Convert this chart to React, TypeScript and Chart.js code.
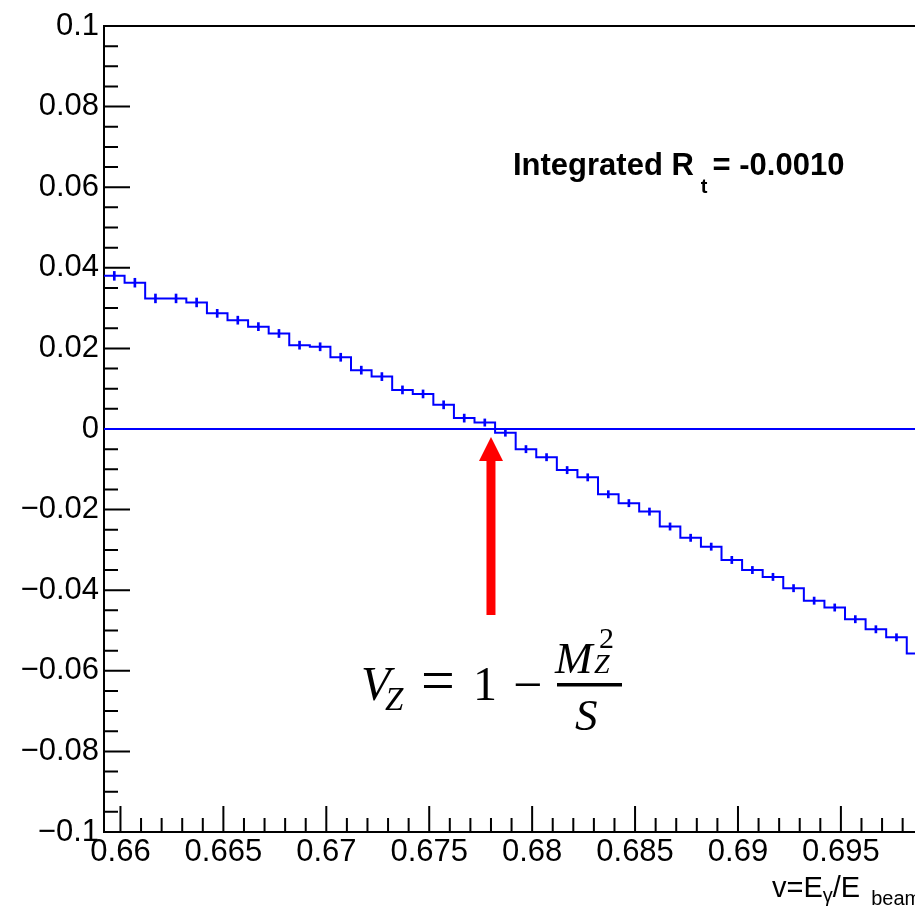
import React, { useEffect, useRef } from "react";
import { Chart, registerables } from "chart.js";

Chart.register(...registerables);

// ---- histogram definition (bins in nu = E_gamma / E_beam) ----
const binStart = 0.6592;
const binWidth = 0.001;

// R_t per bin
const rtValues = [
  0.0380, 0.0363, 0.0324, 0.0324, 0.0314, 0.0287, 0.0270, 0.0254, 0.0237, 0.0208,
  0.0204, 0.0178, 0.0146, 0.0130, 0.0097, 0.0087, 0.0060, 0.0027, 0.0016, -0.0009,
  -0.0050, -0.0070, -0.0102, -0.0120, -0.0162, -0.0184, -0.0205, -0.0242, -0.0270, -0.0292,
  -0.0325, -0.0350, -0.0367, -0.0395, -0.0426, -0.0443, -0.0472, -0.0497, -0.0517, -0.0557,
];

// statistical errors per bin
const rtErrors = [
  0.0011, 0.0011, 0.0011, 0.0011, 0.0011, 0.0010, 0.0010, 0.0010, 0.0010, 0.0010,
  0.0010, 0.0010, 0.0010, 0.0010, 0.0010, 0.0010, 0.0010, 0.0010, 0.0009, 0.0009,
  0.0009, 0.0009, 0.0009, 0.0009, 0.0009, 0.0009, 0.0009, 0.0009, 0.0009, 0.0009,
  0.0009, 0.0009, 0.0009, 0.0009, 0.0009, 0.0009, 0.0009, 0.0009, 0.0009, 0.0009,
];

// axis ranges and tick steps
const xRange = [0.6592, 0.6986];
const yRange = [-0.1, 0.1];
const xTickSteps = [0.005, 0.001];
const yTickSteps = [0.02, 0.005];

// annotation
const nuZ = 0.678;
const integratedText = ["Integrated R", "t", "= -0.0010"];
const xTitleParts = ["v=E", "γ", "/E", "beam"];

const FONT = "'Liberation Sans', Arial, sans-serif";
const SERIF = "'Liberation Serif', 'Times New Roman', serif";
const BLUE = "#0000ff";

function fmtY(v: number) {
  const r = Math.round(v * 1000) / 1000;
  const s = String(r === 0 ? 0 : r);
  return s.replace("-", "\u2212");
}
function fmtX(v: number) {
  return String(Math.round(v * 10000) / 10000);
}

const framePlugin = {
  id: "rootFrame",
  beforeDatasetsDraw(chart: any) {
    const { ctx, chartArea, scales } = chart;
    const { left, right, top, bottom } = chartArea;
    ctx.save();
    ctx.strokeStyle = "#000";
    ctx.lineWidth = 2;
    // frame (right side is outside the picture)
    ctx.beginPath();
    ctx.moveTo(right + 5, top);
    ctx.lineTo(left, top);
    ctx.lineTo(left, bottom);
    ctx.lineTo(right + 5, bottom);
    ctx.stroke();
    // y ticks (inside)
    const ys = scales.y;
    const nY = Math.round((yRange[1] - yRange[0]) / yTickSteps[1]);
    const perMajY = Math.round(yTickSteps[0] / yTickSteps[1]);
    ctx.beginPath();
    for (let k = 0; k <= nY; k++) {
      const v = yRange[0] + k * yTickSteps[1];
      const py = ys.getPixelForValue(v);
      const len = k % perMajY === 0 ? 26 : 14;
      ctx.moveTo(left, py);
      ctx.lineTo(left + len, py);
    }
    ctx.stroke();
    // x ticks (inside)
    const xs = scales.x;
    const kStart = Math.ceil(xRange[0] / xTickSteps[1] - 1e-6);
    const kEnd = Math.floor(xRange[1] / xTickSteps[1] + 1e-6);
    const perMajX = Math.round(xTickSteps[0] / xTickSteps[1]);
    ctx.beginPath();
    for (let k = kStart; k <= kEnd; k++) {
      const px = xs.getPixelForValue(k * xTickSteps[1]);
      const len = k % perMajX === 0 ? 26 : 14;
      ctx.moveTo(px, bottom);
      ctx.lineTo(px, bottom - len);
    }
    ctx.stroke();
    ctx.restore();
  },
  afterDraw(chart: any) {
    const { ctx, scales } = chart;
    ctx.save();
    ctx.fillStyle = "#000";
    ctx.textBaseline = "alphabetic";
    ctx.textAlign = "left";

    // Integrated R_t label
    let x = 513;
    ctx.font = `bold 31px ${FONT}`;
    ctx.fillText(integratedText[0], x, 175);
    x += ctx.measureText(integratedText[0]).width + 7;
    ctx.font = `bold 20px ${FONT}`;
    ctx.fillText(integratedText[1], x, 193);
    x += ctx.measureText(integratedText[1]).width + 5;
    ctx.font = `bold 31px ${FONT}`;
    ctx.fillText(integratedText[2], x, 175);

    // x axis title
    x = 772;
    ctx.font = `29px ${FONT}`;
    ctx.fillText(xTitleParts[0], x, 897);
    x += ctx.measureText(xTitleParts[0]).width;
    ctx.font = `20px ${FONT}`;
    ctx.fillText(xTitleParts[1], x, 902);
    x += ctx.measureText(xTitleParts[1]).width;
    ctx.font = `29px ${FONT}`;
    ctx.fillText(xTitleParts[2], x, 897);
    x += ctx.measureText(xTitleParts[2]).width + 11;
    ctx.font = `20px ${FONT}`;
    ctx.fillText(xTitleParts[3], x, 905);

    // red arrow at nu_Z
    const ax = scales.x.getPixelForValue(nuZ);
    ctx.fillStyle = "#ff0000";
    ctx.fillRect(ax - 4.5, 458, 9, 157);
    ctx.beginPath();
    ctx.moveTo(ax, 437);
    ctx.lineTo(ax - 12, 461);
    ctx.lineTo(ax + 12, 461);
    ctx.closePath();
    ctx.fill();

    // formula V_Z = 1 - M_Z^2 / S
    ctx.fillStyle = "#000";
    ctx.font = `italic 48px ${SERIF}`;
    ctx.fillText("V", 361, 700);
    ctx.font = `italic 33px ${SERIF}`;
    ctx.fillText("Z", 385, 710);
    ctx.font = `60px ${SERIF}`;
    ctx.fillText("=", 421, 700);
    ctx.font = `48px ${SERIF}`;
    ctx.fillText("1", 473, 700);
    ctx.font = `52px ${SERIF}`;
    ctx.fillText("\u2212", 513, 702);
    ctx.fillRect(557, 683, 65, 3.5);
    ctx.font = `italic 45px ${SERIF}`;
    ctx.fillText("M", 555, 673);
    ctx.font = `30px ${SERIF}`;
    ctx.fillText("2", 599, 648);
    ctx.font = `italic 28px ${SERIF}`;
    ctx.fillText("Z", 594, 673);
    ctx.font = `italic 45px ${SERIF}`;
    ctx.fillText("S", 575, 730);
    ctx.restore();
  },
};

export default function App() {
  const ref = useRef<HTMLCanvasElement | null>(null);

  useEffect(() => {
    if (!ref.current) return;
    const edges = rtValues.map((_, i) => binStart + i * binWidth);
    const histPoints = rtValues.map((v, i) => ({ x: edges[i], y: v }));
    histPoints.push({
      x: binStart + rtValues.length * binWidth,
      y: rtValues[rtValues.length - 1],
    });
    const errPoints = rtValues.map((v, i) => ({
      x: edges[i] + binWidth / 2,
      y: [v - rtErrors[i], v + rtErrors[i]],
    }));
    const zeroLine = [
      { x: xRange[0], y: 0 },
      { x: xRange[1], y: 0 },
    ];

    const chart = new Chart(ref.current, {
      type: "line",
      data: {
        datasets: [
          {
            type: "line",
            label: "zero",
            data: zeroLine,
            borderColor: BLUE,
            borderWidth: 2,
            pointRadius: 0,
            fill: false,
            order: 3,
          } as any,
          {
            type: "line",
            label: "R_t",
            data: histPoints,
            stepped: "before",
            borderColor: BLUE,
            borderWidth: 2,
            pointRadius: 0,
            fill: false,
            order: 2,
          } as any,
          {
            type: "bar",
            label: "errors",
            data: errPoints,
            backgroundColor: BLUE,
            borderWidth: 0,
            barThickness: 2,
            order: 1,
          } as any,
        ],
      },
      options: {
        responsive: false,
        animation: false,
        devicePixelRatio: 1,
        layout: { padding: { top: 26, left: 0, right: 0, bottom: 0 } },
        plugins: {
          legend: { display: false },
          tooltip: { enabled: false },
        },
        scales: {
          x: {
            type: "linear",
            min: xRange[0],
            max: xRange[1],
            offset: false,
            grid: { display: false, drawTicks: false, offset: false },
            border: { display: false },
            ticks: {
              stepSize: xTickSteps[0],
              includeBounds: false,
              autoSkip: false,
              maxRotation: 0,
              minRotation: 0,
              padding: 2,
              color: "#000",
              font: { family: FONT, size: 31 },
              callback: (v: any) => fmtX(Number(v)),
            },
            afterFit: (s: any) => {
              s.height = 74;
            },
          },
          y: {
            type: "linear",
            min: yRange[0],
            max: yRange[1],
            grid: { display: false, drawTicks: false },
            border: { display: false },
            ticks: {
              stepSize: yTickSteps[0],
              autoSkip: false,
              padding: 5,
              color: "#000",
              font: { family: FONT, size: 31 },
              callback: (v: any) => fmtY(Number(v)),
            },
            afterFit: (s: any) => {
              s.width = 104;
            },
          },
        } as any,
      },
      plugins: [framePlugin],
    });
    return () => chart.destroy();
  }, []);

  return (
    <div
      style={{
        position: "fixed",
        left: 0,
        top: 0,
        width: 915,
        height: 906,
        overflow: "hidden",
        background: "#fff",
      }}
    >
      <canvas ref={ref} width={915} height={906} style={{ display: "block" }} />
    </div>
  );
}
